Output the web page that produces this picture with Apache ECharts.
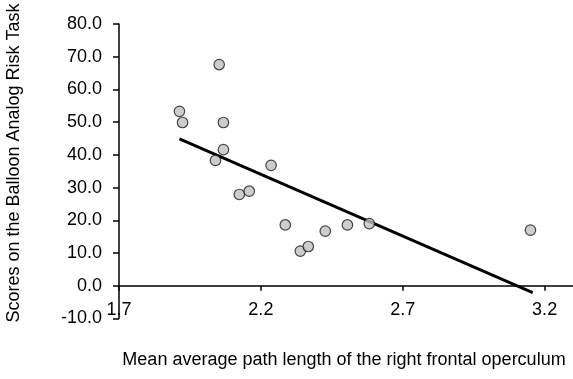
<!DOCTYPE html>
<html>
<head>
<meta charset="utf-8">
<script src="https://cdn.jsdelivr.net/npm/echarts@6/dist/echarts.min.js"></script>
<style>
  html, body { margin: 0; padding: 0; background: #fff; }
  #main { width: 573px; height: 379px; }
</style>
</head>
<body>
<div id="main"></div>
<script>
// path length (x) vs BART score (y)
var pathLength = [1.913, 1.924, 2.053, 2.068, 2.040, 2.068, 2.124, 2.159, 2.236, 2.286, 2.339, 2.367, 2.427, 2.505, 2.582, 3.150];
var bartScore  = [53.3, 49.9, 67.6, 49.9, 38.3, 41.6, 27.9, 28.9, 36.8, 18.6, 10.6, 12.0, 16.7, 18.6, 19.0, 17.0];
// fitted trend line, two ends
var trendX = [1.913, 3.158];
var trendY = [44.9, -2.1];
var xTicks = [1.7, 2.2, 2.7, 3.2];

var fontFam = '"Liberation Sans", Arial, sans-serif';

var points = [];
for (var i = 0; i < pathLength.length; i++) {
    points.push([pathLength[i], bartScore[i]]);
}
var trend = [];
for (var j = 0; j < trendX.length; j++) {
    trend.push([trendX[j], trendY[j]]);
}

var myChart = echarts.init(document.getElementById('main'));
var option = {
    animation: false,
    backgroundColor: '#fff',
    grid: { left: 119, right: 0, top: 24, bottom: 60.5 },
    xAxis: {
        type: 'value',
        min: 1.7,
        max: 3.3,
        splitLine: { show: false },
        axisLine: { onZero: true, lineStyle: { color: '#000', width: 1.5 } },
        axisTick: { show: true, customValues: xTicks, length: 5, lineStyle: { color: '#000', width: 1.5 } },
        axisLabel: {
            customValues: xTicks,
            margin: -17,
            color: '#000',
            fontSize: 18,
            fontFamily: fontFam,
            formatter: function (v) { return v.toFixed(1); }
        }
    },
    yAxis: {
        type: 'value',
        min: -10,
        max: 80,
        interval: 10,
        splitLine: { show: false },
        axisLine: { show: true, onZero: false, lineStyle: { color: '#000', width: 1.5 } },
        axisTick: { show: true, length: 6, lineStyle: { color: '#000', width: 1.5 } },
        axisLabel: {
            margin: 17,
            color: '#000',
            fontSize: 18,
            fontFamily: fontFam,
            formatter: function (v) { return v.toFixed(1); }
        }
    },
    graphic: [
        {
            type: 'text',
            x: 14,
            y: 163,
            rotation: Math.PI / 2,
            style: {
                text: 'Scores on the Balloon Analog Risk Task',
                fill: '#000',
                font: '18px ' + fontFam,
                align: 'center',
                verticalAlign: 'middle'
            }
        },
        {
            type: 'text',
            x: 344,
            y: 360,
            style: {
                text: 'Mean average path length of the right frontal operculum',
                fill: '#000',
                font: '18px ' + fontFam,
                align: 'center',
                verticalAlign: 'middle'
            }
        }
    ],
    series: [
        {
            type: 'line',
            data: trend,
            symbol: 'none',
            lineStyle: { color: '#000', width: 2.8 },
            z: 2
        },
        {
            type: 'scatter',
            data: points,
            symbolSize: 10.5,
            itemStyle: { color: '#c0c0c0', borderColor: '#1a1a1a', borderWidth: 1.2 },
            z: 3
        }
    ]
};
myChart.setOption(option);
</script>
</body>
</html>
